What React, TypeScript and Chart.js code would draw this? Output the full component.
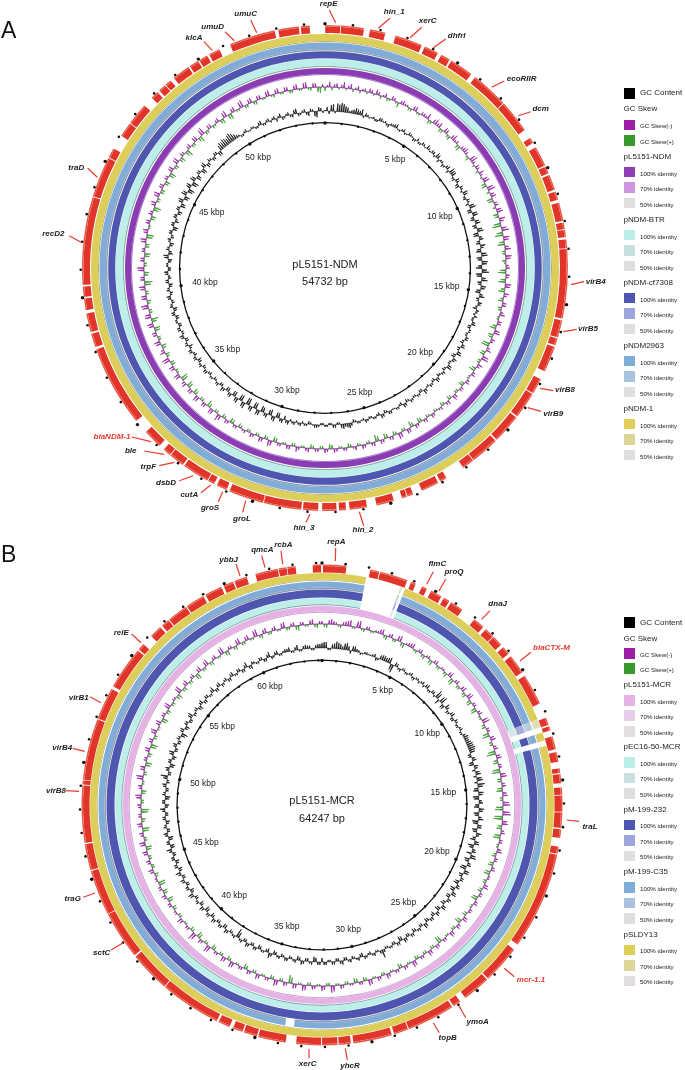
import React, { useEffect, useRef } from 'react';
import { Chart, registerables } from 'chart.js';
Chart.register(...registerables);

const FONT = '"Liberation Sans", Arial, sans-serif';

// ---------- Genome sizes ----------
const genomeKbA = 54.732;
const genomeKbB = 64.247;

// ---------- Genes (start kb, end kb) ----------
const genesA: number[][] = [
  [0.01,0.55],[0.58,1.41],[1.63,2.19],[2.57,3.57],[3.69,4.21],[4.35,4.70],[4.77,5.63],[5.81,7.18],[7.21,8.42],[8.76,8.97],
  [9.15,9.88],[9.93,10.19],[10.26,10.82],[10.89,11.20],[11.31,11.98],[12.04,12.28],[12.31,12.57],[12.65,12.97],[13.00,15.51],[15.58,16.21],
  [16.25,16.50],[16.57,17.51],[17.83,18.40],[18.44,19.41],[19.46,20.52],[20.58,21.63],[21.66,22.09],[22.80,23.05],[23.14,23.79],[24.13,24.34],
  [24.37,24.55],[24.86,25.50],[25.85,26.48],[26.61,26.86],[26.95,27.47],[27.61,28.16],[28.22,29.59],[29.62,30.89],[31.01,31.39],[31.50,31.74],
  [31.77,32.75],[32.81,33.37],[33.40,33.69],[33.90,34.59],[35.12,38.07],[38.16,38.66],[38.72,39.41],[39.53,39.95],[40.01,40.38],[40.44,43.63],
  [43.66,45.14],[45.17,45.53],[46.07,46.60],[46.63,47.43],[47.81,48.10],[48.19,48.47],[48.50,48.73],[48.88,49.53],[49.59,49.94],[49.99,50.32],
  [50.40,50.81],[51.23,52.91],[53.04,53.79],[53.86,54.18],
];
const genesB: number[][] = [
  [0.04,1.04],[2.07,2.46],[2.50,3.71],[3.89,4.10],[4.39,4.62],[4.82,5.32],[5.44,5.71],[5.80,6.37],[7.03,7.53],[7.67,8.10],
  [8.14,8.60],[8.74,9.10],[9.24,10.08],[10.26,11.60],[12.26,12.58],[12.65,12.83],[13.10,13.67],[13.79,14.21],[14.49,14.69],[14.74,15.13],
  [15.31,15.62],[15.65,16.35],[16.38,17.04],[17.10,17.47],[17.85,18.15],[18.20,22.40],[22.66,24.32],[24.38,25.59],[25.86,26.20],[26.27,28.34],
  [28.38,29.00],[29.11,30.78],[30.89,31.41],[31.46,32.12],[32.16,33.23],[33.68,34.87],[34.93,35.51],[35.57,36.00],[36.16,36.67],[36.76,39.40],
  [39.44,41.21],[41.28,43.35],[43.38,45.33],[45.38,46.51],[46.56,49.02],[49.06,49.24],[49.27,51.91],[51.95,53.34],[53.47,55.32],[55.38,55.68],
  [56.16,56.70],[56.80,57.16],[57.20,58.09],[58.14,58.96],[59.07,59.82],[59.93,60.37],[60.43,60.98],[61.37,62.35],[62.39,62.73],[62.76,63.12],[63.85,64.21],
];

// ---------- BLAST ring exceptions for plasmid B (start kb, end kb, kind) ----------
const ringRegionsB: [number, number, string][] = [
  [1.96,3.53,'gap'],[3.53,3.61,'pale'],[3.61,3.75,'gap'],[12.19,12.55,'pale'],[12.55,12.81,'gap'],[13.17,13.42,'gap'],
];
const lightBlueRegionsB: [number, number, string][] = [...ringRegionsB, [33.41,33.82,'gap']];

// ---------- Tick positions (kb) ----------
const majorKbA = [0,5,10,15,20,25,30,35,40,45,50];
const minorKbA = [1,2,3,4,6,7,8,9,11,12,13,14,16,17,18,19,21,22,23,24,26,27,28,29,31,32,33,34,36,37,38,39,41,42,43,44,46,47,48,49,51,52,53,54];
const majorKbB = [0,5,10,15,20,25,30,35,40,45,50,55,60];
const minorKbB = [1,2,3,4,6,7,8,9,11,12,13,14,16,17,18,19,21,22,23,24,26,27,28,29,31,32,33,34,36,37,38,39,41,42,43,44,46,47,48,49,51,52,53,54,56,57,58,59,61,62,63,64];
const tickLabelKbA = [5,10,15,20,25,30,35,40,45,50];
const tickLabelKbB = [5,10,15,20,25,30,35,40,45,50,55,60];
const tickLabelRadiusA = [129,126,123,127,129,128,127,121,126,129];
const tickLabelRadiusB = [129,127,122,124,127,127,127,126,122,121,127,129];

// ---------- GC content deviation, on-bin readings (1.5 degree bins) ----------
const gcContentA = [
  1,-3,7,8,9,6,2,4,5,6,3,-1, 2,-2,3,2,-3,2,4,-2,3,-1,2,-3,
  3,-2,2,4,-1,3,5,-3,2,-2,4,6, 5,-3,3,-4,2,5,-2,3,-3,6,-4,5,
  -4,5,-3,6,-5,4,-4,3,-5,6,-4,5, -6,7,-5,6,-3,4,-5,5,-2,3,-4,2,
  3,-2,4,-3,2,-2,3,-3,4,-2,5,-4, 3,-2,5,-3,2,-3,4,-2,3,-1,5,-3,
  2,-2,3,-3,4,-2,2,-1,3,-3,4,-2, 2,-2,3,-1,2,-3,5,3,4,-2,3,-2,
  2,-2,3,1,-3,2,3,-2,2,4,-4,3, -5,4,-5,3,-6,5,-6,4,-7,5,-6,4,
  -5,3,-4,4,-3,2,-3,2,-2,3,-3,2, -4,3,-2,3,-4,2,-3,4,-2,3,-3,2,
  -3,3,-4,2,-2,4,-3,2,-4,3,-2,4, -3,2,-4,5,-3,2,-4,3,-2,3,-5,3,
  -2,3,-4,3,-4,5,-5,4,-6,5,-6,4, -4,3,-5,5,-3,2,-3,3,-4,7,8,6,
  9,5,2,-2,3,-1,2,-2,4,-2,3,2, -3,4,-2,3,-3,5,-2,3,-4,2,-6,3,
];
// between-bin readings
const gcContentFineA = [
  4,6,-2,7,8,5,3,6,4,-2,2,1, -2,3,1,-2,2,3,-1,2,-2,3,1,-2,
  -2,3,-1,2,3,-2,4,2,-3,3,-3,5, -2,4,-3,3,-2,4,-3,2,5,-4,5,-3,
  4,-4,5,-5,3,-3,5,-4,5,-5,6,-4, 5,-6,4,-4,5,-4,3,-3,4,-2,3,-2,
  -2,3,-3,2,-2,3,-2,3,-3,4,-3,4, -2,4,-2,3,-2,3,-3,2,-2,3,-3,2,
  -2,2,-2,3,-3,2,-1,3,-2,3,-3,2, -2,2,-2,2,-2,3,4,5,-2,3,-2,2,
  -2,2,3,-2,2,-2,2,3,-2,3,4,-5, 5,-6,4,-5,5,-6,5,-7,6,-6,5,-5,
  4,-4,3,-3,3,-2,2,-3,3,-2,3,-3, 3,-3,3,-2,3,-3,3,-2,3,-3,2,-3,
  3,-3,3,-3,3,-2,3,-3,3,-3,3,-3, 2,-3,4,-4,3,-3,2,-3,3,-4,3,-4,
  3,-3,3,-5,4,-4,5,-5,4,-5,5,-5, 3,-4,4,-4,3,-3,3,-4,5,6,7,8,
  7,3,-2,2,-1,2,-2,3,-2,2,-2,3, 2,-3,2,-2,4,-3,2,-3,3,-5,4,-2,
];
const gcContentB = [
  5,6,-2,5,6,3,7,-3,5,2,-1,2, 1,3,-2,5,4,6,-8,3,-3,2,-2,3,
  -3,2,2,-2,4,-2,3,8,-5,7,-4,3, -2,4,-3,2,-2,3,-2,5,4,6,7,5,
  -3,4,-5,3,4,-3,6,7,-4,5,-6,3, -4,5,-5,3,-6,4,-5,5,-3,4,-6,3,
  -5,6,-4,4,-6,5,-3,3,-5,4,-4,5, -4,3,-4,5,-5,4,-3,3,-4,5,-3,2,
  -4,3,-3,4,-5,3,-3,2,-2,8,-2,3, -3,2,-4,3,-2,3,-3,4,-3,3,-2,3,
  -4,3,-5,2,-3,4,-4,2,-3,3,-3,2, -4,5,-3,2,-4,3,-3,4,-3,2,-9,2,
  -3,4,-4,3,-3,4,-4,3,-5,4,-4,2, -3,5,-4,3,-3,4,-3,5,-4,3,-4,3,
  -3,5,-4,3,-5,4,-3,2,-4,3,-3,5, -4,3,-5,2,-3,4,-2,7,-3,4,-5,3,
  -4,5,-3,4,-3,2,-6,4,-4,3,-3,5, -2,3,-4,4,-3,3,-2,5,-3,4,-2,3,
  -3,4,-2,3,-3,5,-4,2,-2,3,-3,5, -2,4,-2,3,4,-2,5,-2,4,3,-2,4,
];
const gcContentFineB = [
  6,-2,4,7,5,6,4,5,3,-2,2,1, 2,-3,4,5,5,-6,4,-2,2,-2,2,-2,
  2,-2,3,3,-2,3,-2,6,6,-4,5,-3, 3,-3,3,-2,2,-2,3,4,5,6,6,-3,
  3,-4,4,-3,5,5,-3,5,-5,4,-5,4, -5,4,-4,5,-5,4,-4,3,-5,5,-4,4,
  5,-5,3,-5,5,-4,3,-4,3,-5,4,-4, 4,-3,4,-4,3,-4,3,-3,4,-3,3,-3,
  3,-3,3,-4,3,-3,2,-2,3,3,-2,2, -2,3,-3,2,-3,2,-3,3,-3,3,-2,3,
  3,-4,3,-3,3,-3,3,-2,3,-2,3,-3, 3,-4,2,-3,3,-3,3,-3,3,-6,3,-2,
  3,-4,3,-3,3,-3,3,-4,3,-3,3,-3, 4,-3,3,-3,3,-3,3,-3,3,-3,3,-3,
  3,-4,3,-4,3,-3,3,-3,3,-3,3,-3, 3,-4,3,-3,3,-3,4,-3,3,-4,3,-3,
  4,-3,3,-3,3,-4,3,-3,3,-3,4,-3, 2,-3,3,-3,3,-2,3,-3,3,-3,2,-3,
  3,-2,3,-3,3,-3,3,-2,3,-3,3,-3, 3,-2,2,3,-2,3,-2,3,3,-2,3,4,
];

// ---------- GC skew (positive: purple, drawn outward; negative: green, inward) ----------
const gcSkewA = [
  -4,5,3,-2,6,3,-3,4,2,-2,3,5, -3,4,-2,3,-5,4,2,-3,5,-2,3,6,
  -3,6,5,-3,4,-4,6,3,-5,4,3,-4, 7,-2,3,5,-2,6,-5,7,4,-6,3,-3,
  6,-4,4,-9,7,-8,5,-7,6,-3,5,-2, 4,-8,3,-7,5,-6,3,-5,4,-3,5,-2,
  4,-6,6,-4,3,-8,5,-5,7,-3,3,-6, 4,-2,4,-5,3,-3,5,-4,3,-4,2,-3,
  4,-3,3,-5,4,-6,5,-3,6,-4,3,-5, 4,-7,3,-2,4,-3,2,-4,3,-2,4,-5,
  4,-3,3,-4,3,-2,5,-3,4,-2,3,-5, 6,-4,5,-3,4,-3,2,-4,3,-5,4,-4,
  7,-3,5,-6,4,-3,6,-5,4,-6,3,-7, 6,-3,5,-4,7,-4,3,-5,6,-3,4,-6,
  6,-7,5,-3,7,-4,5,-3,6,-8,4,-5, 7,-3,4,-6,3,-4,6,-7,5,-2,4,-5,
  3,-7,5,-3,6,-4,4,-5,3,-6,5,-4, 6,-5,3,-7,4,-3,5,-6,7,-3,4,-2,
  4,-5,6,-6,5,-2,7,-3,5,-4,4,-2, 6,-3,5,-2,4,-3,5,-2,6,-3,4,-6,
];
const gcSkewFineA = [
  2,-3,4,3,-2,5,2,-3,3,4,-2,3, 2,-3,4,-2,3,2,-3,4,-2,3,2,-4,
  4,3,-4,5,-3,4,2,-4,3,5,-2,6, 3,4,-3,2,5,-4,6,-3,5,-5,4,5,
  -5,6,-7,5,-6,6,-5,4,-3,6,-4,3, -6,4,-5,6,-4,5,-3,4,-4,3,-2,4,
  -4,5,-5,4,-7,3,-4,6,-3,5,-4,3, -2,3,-4,3,-3,4,-3,4,-3,3,-2,3,
  -2,4,-4,3,-4,4,-3,5,-3,4,-4,3, -5,4,-3,3,-2,4,-3,3,-2,3,-4,3,
  -3,3,-3,4,-2,3,-3,4,-2,3,-4,5, -3,4,-3,3,-3,3,-3,3,-4,3,-3,5,
  -3,5,-4,4,-3,5,-4,4,-5,5,-6,5, -2,4,-4,6,-3,5,-4,5,-3,4,-5,5,
  -5,6,-3,6,-3,5,-3,5,-6,4,-4,6, -3,4,-5,3,-4,5,-6,4,-2,4,-4,4,
  -5,4,-3,5,-4,4,-4,3,-5,4,-3,5, -4,4,-5,3,-3,5,-4,6,-3,4,-3,3,
  -4,5,-5,4,-2,6,-3,4,-3,4,-2,5, -2,4,-2,4,-3,4,-2,5,-2,4,-5,3,
];
const gcSkewB = [
  3,-4,5,2,-3,4,6,-2,7,-3,3,-2, 2,5,-4,4,-3,6,-5,3,5,-3,4,-4,
  3,-5,4,-3,2,-4,5,-6,4,-3,5,-4, 6,-5,3,-6,4,-2,7,-4,3,-7,5,-3,
  4,-9,5,-5,3,-8,6,-4,4,-6,5,-3, 7,-8,8,-9,6,-5,4,-7,3,-2,5,-4,
  3,-5,4,-6,2,-3,5,-4,3,-6,4,-2, 3,-4,5,-6,4,-3,5,-2,3,-7,4,-3,
  5,-3,3,-4,6,-2,4,-5,3,-2,5,-3, 4,-2,6,-4,3,-5,2,-3,4,-2,7,-3,
  5,-2,4,-3,6,-2,5,-8,4,-3,6,-4, 3,-2,5,-3,4,-5,3,-2,6,-4,5,-3,
  3,-5,7,-3,4,-6,8,-4,3,-2,5,-3, 2,-4,3,-6,4,-5,3,-7,2,-4,5,-3,
  4,-3,5,-6,6,-3,4,-7,5,-4,3,-8, 4,-3,6,-5,4,-2,7,-3,5,-6,3,-4,
  5,-7,4,-3,6,-2,5,-6,3,-4,6,-3, 2,-5,7,-4,5,-3,4,-6,5,-3,6,-4,
  4,-2,7,-5,3,-4,6,-3,5,-2,7,-4, 5,-3,4,-2,6,-3,4,-5,3,-2,5,-4,
];
const gcSkewFineB = [
  -3,4,3,-2,3,5,-2,6,-2,3,-2,2, 4,-3,3,-3,5,-4,2,4,-2,3,-3,2,
  -4,3,-3,2,-3,4,-5,3,-3,4,-3,5, -4,3,-5,3,-2,6,-3,3,-6,4,-3,3,
  -7,4,-4,3,-7,5,-4,3,-5,4,-3,6, -7,7,-8,5,-4,3,-6,3,-2,4,-3,3,
  -4,3,-5,2,-3,4,-3,3,-5,3,-2,3, -3,4,-5,3,-3,4,-2,3,-6,3,-3,4,
  -3,3,-3,5,-2,3,-4,3,-2,4,-3,3, -2,5,-3,3,-4,2,-3,3,-2,6,-3,4,
  -2,3,-3,5,-2,4,-6,3,-3,5,-3,3, -2,4,-3,3,-4,3,-2,5,-3,4,-3,3,
  -4,6,-3,3,-5,6,-3,3,-2,4,-3,2, -3,3,-5,3,-4,3,-6,2,-3,4,-3,3,
  -3,4,-5,5,-3,3,-6,4,-3,3,-7,3, -3,5,-4,3,-2,6,-3,4,-5,3,-3,4,
  -6,3,-3,5,-2,4,-5,3,-3,5,-3,2, -4,6,-3,4,-3,3,-5,4,-3,5,-3,3,
  -2,6,-4,3,-3,5,-3,4,-2,6,-3,4, -3,3,-2,5,-3,3,-4,3,-2,4,-3,3,
];

// ---------- Gene names and page layout of their labels ----------
const geneNamesA = ['umuC','umuD','klcA','traD','recD2','repE','hin_1','xerC','dhfrI','ecoRIIR','dcm','virB4','virB5','virB8','virB9','hin_3','hin_2','blaNDM-1','ble','trpF','dsbD','cutA','groS','groL'];
const geneNamesB = ['ybbJ','qmcA','relE','virB1','virB4','virB8','rcbA','repA','flmC','proQ','dnaJ','blaCTX-M','traL','mcr-1.1','ymoA','topB','yhcR','xerC','traG','sctC'];
const highlightGenes = ['blaNDM-1','blaCTX-M','mcr-1.1'];
// x1, y1, x2, y2 of callout, then text centre x, y
const calloutsA = [
  [250.7,20,256.7,32.7,245.7,13.7],[225,31.7,234.3,40.7,212.7,27],[204,41.7,212.3,50.7,194,38],[87.7,168.3,97.3,177.3,76.3,167.3],
  [69.3,235.7,81.7,242.7,53.3,233.3],[329.3,10,335.7,22.7,328.7,3.6],[390,18.3,378.3,28.3,394.3,11.3],[421.7,27.3,410,37.7,427.7,20.3],
  [445.7,39,433.3,47.7,456.7,35.3],[504.3,81,491.7,87.3,521.7,79],[530.7,111.7,518.3,115.7,540.7,109],[584,281.7,571,284.7,595.7,281.7],
  [576.7,329.3,563.3,331.7,588,328.3],[553.3,390.7,540,388.3,565,390],[541,411.3,527.7,407.7,553.3,413.3],[310,514.3,306,522.3,304,528],
  [359.3,511.7,363.7,525.7,363,529.3],[131.7,437,151,441.7,112,436.7],[144.3,451,164.3,454.3,130.7,451],[159.3,465.7,174.3,462.3,148.3,467],
  [179.3,480.7,193.3,475.7,166,483],[201,492.7,210.7,485,189.3,495],[218.3,501.7,222.7,491.7,210,508],[242.7,512.3,245.7,500.7,242,518.7],
];
const calloutsB = [
  [236,564,240,575.7,228.7,559.7],[261.7,555.7,265,567.7,262.3,549.3],[131.7,634,141,642.7,121.3,632.7],[90,696.7,101,702.7,78.7,697.3],
  [72.7,748.3,84.7,751.3,62.3,747.7],[66,790.7,79,791.3,56,790.7],[281,550.7,282.7,564.3,283.3,545],[335.7,547.7,335.3,561,336.3,541.7],
  [433.3,571.7,426.7,584.3,437.3,564],[445.7,579,439,591,454,572],[490,610.7,481.7,619.3,497.7,603.7],[531,652.3,520,661,551.5,647.7],
  [579,821.3,566.7,820,590,826.7],[514.3,976.7,504.3,968.3,531,979.3],[465.7,1017.7,459,1005.7,477.7,1021.3],[439.3,1032.7,433.3,1022.7,447.7,1037.7],
  [347.3,1060,345.3,1048.3,350,1065.3],[309,1058.3,309,1049,307.7,1064],[83.3,897.3,95,893,72.7,899],[111,950,123.3,942.7,101.7,952.3],
];

// ---------- Legend ----------
const legendRowsIdentity = ['100% identity','70% identity','50% identity'];
const legendGroupsA = ['pL5151-NDM','pNDM-BTR','pNDM-cf7308','pNDM2963','pNDM-1'];
const legendGroupsB = ['pL5151-MCR','pEC16-50-MCR','pM-199-232','pM-199-C35','pSLDY13'];
const GREY50 = '#E0DEDF';
const legendColoursA = [['#8E3FB5','#CC97E0',GREY50],['#BCEEE9','#C8E0E0',GREY50],['#4F56B2','#9FA6DF',GREY50],['#7FACD8','#A9C2DE',GREY50],['#DFCF58','#DDD69A',GREY50]];
const legendColoursB = [['#E6B2E6','#E6CFE9',GREY50],['#BCEEE9','#C8E0E0',GREY50],['#4F56B2','#9FA6DF',GREY50],['#7FACD8','#A9C2DE',GREY50],['#DFCF58','#DDD69A',GREY50]];

const SIZE = 640;
const SCALE_MAX = 320;
const GC_BASE = 157;
const SKEW_BASE = 181;
const SPIKE_EXPAND = 4;
const TICK_BIN_KB = 0.05;

type Ring = { kind: 'spacer' | 'genes' | 'solid'; w: number; color?: string; pale?: string; regions?: [number, number, string][] };

function segmentsFromGenes(genes: number[][], total: number, color: string) {
  const data: number[] = []; const colors: string[] = [];
  let pos = 0;
  genes.forEach(([s, e]) => {
    data.push(s - pos, e - s); colors.push('rgba(0,0,0,0)', color); pos = e;
  });
  data.push(total - pos); colors.push('rgba(0,0,0,0)');
  return { data, colors };
}
function segmentsFromRegions(regions: [number, number, string][], total: number, color: string, pale: string) {
  const data: number[] = []; const colors: string[] = [];
  let pos = 0;
  regions.forEach(([s, e, k]) => {
    if (s > pos) { data.push(s - pos); colors.push(color); }
    data.push(e - s); colors.push(k === 'gap' ? 'rgba(0,0,0,0)' : pale);
    pos = e;
  });
  data.push(total - pos); colors.push(color);
  return { data, colors };
}

const Y50 = '#E3DFB4', L50 = '#B8CCE2', D50 = '#A8ACDD', C50 = '#D5E6E6';

function ringsA(): Ring[] {
  return [
    { kind: 'genes', w: 1.5, color: '#E8594A' },
    { kind: 'genes', w: 6.5, color: '#E1352A' },
    { kind: 'spacer', w: 1 },
    { kind: 'solid', w: 7, color: '#DCCE58' },
    { kind: 'solid', w: 1, color: '#B5B06C' },
    { kind: 'spacer', w: 0.5 },
    { kind: 'solid', w: 6.5, color: '#82ACD8' },
    { kind: 'solid', w: 1.4, color: '#8E99AC' },
    { kind: 'spacer', w: 0.8 },
    { kind: 'solid', w: 7, color: '#4E56B0' },
    { kind: 'spacer', w: 0.4 },
    { kind: 'solid', w: 7.1, color: '#BDEEE9' },
    { kind: 'solid', w: 1.3, color: '#88B0AC' },
    { kind: 'spacer', w: 1 },
    { kind: 'solid', w: 6, color: '#8A3DB2' },
    { kind: 'solid', w: 1, color: '#AD78CF' },
    { kind: 'spacer', w: 46.9 },
    { kind: 'solid', w: 1.3, color: '#111111' },
  ];
}
function ringsB(): Ring[] {
  const r = ringRegionsB;
  return [
    { kind: 'genes', w: 1.5, color: '#E8594A' },
    { kind: 'genes', w: 6.5, color: '#E1352A' },
    { kind: 'spacer', w: 0.5 },
    { kind: 'solid', w: 6.7, color: '#DCCE58', pale: Y50, regions: r },
    { kind: 'solid', w: 0.8, color: '#B5B06C', pale: Y50, regions: r },
    { kind: 'spacer', w: 1 },
    { kind: 'solid', w: 6, color: '#82ACD8', pale: L50, regions: lightBlueRegionsB },
    { kind: 'solid', w: 1.4, color: '#8E99AC', pale: L50, regions: lightBlueRegionsB },
    { kind: 'spacer', w: 0.6 },
    { kind: 'solid', w: 8, color: '#4E56B0', pale: D50, regions: r },
    { kind: 'spacer', w: 0.6 },
    { kind: 'solid', w: 6, color: '#BDEEE9', pale: C50, regions: r },
    { kind: 'solid', w: 1.2, color: '#88B0AC', pale: C50, regions: r },
    { kind: 'spacer', w: 0.7 },
    { kind: 'solid', w: 5.7, color: '#E6B2E6' },
    { kind: 'solid', w: 1, color: '#C9A6CC' },
    { kind: 'spacer', w: 46.7 },
    { kind: 'solid', w: 1.3, color: '#111111' },
  ];
}

type PanelProps = {
  left: number; top: number; outerR: number; totalKb: number; genes: number[][]; rings: Ring[];
  gc: number[]; gcFine: number[]; skew: number[]; skewFine: number[]; major: number[]; minor: number[]; outerTickR: number; innerTickR: number;
  tickLabels: number[]; tickRadii: number[]; title: string; sizeText: string;
  names: string[]; callouts: number[][]; titleY: number; sizeY: number;
};

function expand(values: number[], base: number) {
  const out: number[] = [];
  values.forEach(v => { out.push(base + v); for (let i = 1; i < SPIKE_EXPAND; i++) out.push(base); });
  return out;
}
function interleave(a: number[], b: number[]) {
  const out: number[] = [];
  a.forEach((v, i) => { out.push(v, b[i]); });
  return out;
}

function Panel(p: PanelProps) {
  const ringRef = useRef<HTMLCanvasElement>(null);
  const gcRef = useRef<HTMLCanvasElement>(null);
  const markRef = useRef<HTMLCanvasElement>(null);

  useEffect(() => {
    const common: any = { responsive: false, maintainAspectRatio: false, animation: false, events: [], plugins: { legend: { display: false }, tooltip: { enabled: false } } };
    const radial = { r: { display: false, min: 0, max: SCALE_MAX, ticks: { display: false }, pointLabels: { display: false }, grid: { display: false }, angleLines: { display: false } } };

    // rings
    const sum = p.rings.reduce((a, r) => a + r.w, 0);
    const ringDatasets = p.rings.map(r => {
      let seg: { data: number[]; colors: string[] };
      if (r.kind === 'spacer') seg = { data: [p.totalKb], colors: ['rgba(0,0,0,0)'] };
      else if (r.kind === 'genes') seg = segmentsFromGenes(p.genes, p.totalKb, r.color!);
      else if (r.regions) seg = segmentsFromRegions(r.regions, p.totalKb, r.color!, r.pale!);
      else seg = { data: [p.totalKb], colors: [r.color!] };
      return { data: seg.data, backgroundColor: seg.colors, borderWidth: 0, weight: r.w };
    });
    const ringChart = new Chart(ringRef.current!, {
      type: 'doughnut',
      data: { datasets: ringDatasets as any },
      options: { ...common, cutout: p.outerR - sum, layout: { padding: SCALE_MAX - p.outerR } },
    });

    // GC content and skew
    const gcAll = interleave(p.gc, p.gcFine);
    const skewAll = interleave(p.skew, p.skewFine);
    const n = gcAll.length * SPIKE_EXPAND;
    const binLabels = Array.from({ length: n }, (_, i) => String(i));
    const purple = skewAll.map(v => (v > 0 ? v : 0));
    const green = skewAll.map(v => (v < 0 ? v : 0));
    const spikeSet = (values: number[], base: number, color: string, w: number) => ({
      data: expand(values, base), borderColor: color, backgroundColor: color, borderWidth: w,
      borderJoinStyle: 'round', pointRadius: 0, fill: { value: base }, tension: 0,
    });
    const gcChart = new Chart(gcRef.current!, {
      type: 'radar',
      data: { labels: binLabels, datasets: [
        spikeSet(purple, SKEW_BASE, '#9A24A8', 0.7),
        spikeSet(green, SKEW_BASE, '#3A9A2E', 0.7),
        spikeSet(gcAll, GC_BASE, '#111111', 0.7),
      ] as any },
      options: { ...common, scales: radial },
    });

    // ticks, tick labels, gene labels
    const nTicks = Math.round(p.totalKb / TICK_BIN_KB);
    const tickLabels = Array.from({ length: nTicks }, (_, i) => String(i));
    const toIndex = (kb: number) => Math.round(kb / TICK_BIN_KB);
    const tickData = (kbs: number[], r: number) => {
      const arr: (number | null)[] = new Array(nTicks).fill(null);
      kbs.forEach(k => { arr[toIndex(k)] = r; });
      return arr;
    };
    const dots = (kbs: number[], r: number, size: number) => ({
      data: tickData(kbs, r), showLine: false, pointRadius: size, pointBackgroundColor: '#111111', pointBorderWidth: 0, borderWidth: 0, spanGaps: false,
    });
    const textPlugin = {
      id: 'panelText',
      afterDatasetsDraw(chart: any) {
        const ctx = chart.ctx; const scale = chart.scales.r;
        ctx.save();
        ctx.textAlign = 'center'; ctx.textBaseline = 'middle';
        ctx.fillStyle = '#222222';
        ctx.font = `8.5px ${FONT}`;
        p.tickLabels.forEach((kb, i) => {
          const pt = scale.getPointPosition(toIndex(kb), p.tickRadii[i]);
          ctx.fillText(`${kb} kbp`, pt.x, pt.y);
        });
        const c = scale.getPointPosition(0, 0);
        ctx.font = `11px ${FONT}`;
        ctx.fillText(p.title, c.x, p.titleY - p.top);
        ctx.fillText(p.sizeText, c.x, p.sizeY - p.top);
        ctx.lineWidth = 1.2; ctx.strokeStyle = '#E8392E'; ctx.lineCap = 'butt';
        p.names.forEach((name, i) => {
          const [x1, y1, x2, y2, tx, ty] = p.callouts[i];
          ctx.beginPath(); ctx.moveTo(x1 - p.left, y1 - p.top); ctx.lineTo(x2 - p.left, y2 - p.top); ctx.stroke();
          ctx.font = `italic bold 8px ${FONT}`;
          ctx.fillStyle = highlightGenes.includes(name) ? '#E8392E' : '#222222';
          ctx.fillText(name, tx - p.left, ty - p.top);
        });
        ctx.restore();
      },
    };
    const markChart = new Chart(markRef.current!, {
      type: 'radar',
      data: { labels: tickLabels, datasets: [
        dots(p.minor, p.outerTickR, 1.3), dots(p.major, p.outerTickR, 1.7),
        dots(p.minor, p.innerTickR, 1.2), dots(p.major, p.innerTickR, 1.7),
      ] as any },
      options: { ...common, scales: radial },
      plugins: [textPlugin],
    });
    return () => { ringChart.destroy(); gcChart.destroy(); markChart.destroy(); };
  }, []);

  const st: React.CSSProperties = { position: 'absolute', left: p.left, top: p.top, width: SIZE, height: SIZE };
  return (
    <>
      <canvas ref={ringRef} width={SIZE} height={SIZE} style={st} />
      <canvas ref={gcRef} width={SIZE} height={SIZE} style={st} />
      <canvas ref={markRef} width={SIZE} height={SIZE} style={st} />
    </>
  );
}

function Txt(props: { x: number; y: number; size: number; children: React.ReactNode }) {
  return (
    <div style={{ position: 'absolute', left: props.x, top: props.y, transform: 'translateY(-50%)', fontFamily: FONT, fontSize: props.size, color: '#222', lineHeight: 1, whiteSpace: 'nowrap' }}>
      {props.children}
    </div>
  );
}
function Sq(props: { y: number; color: string }) {
  return <div style={{ position: 'absolute', left: 624, top: props.y - 5.3, width: 10.6, height: 10.6, background: props.color }} />;
}

function Legend(props: { content: number; skewHead: number; skew: number[]; groupStart: number; period: number; groups: string[]; colours: string[][]; offsets: number[] }) {
  return (
    <>
      <Sq y={props.content} color="#000" />
      <Txt x={640} y={props.content} size={8}>GC Content</Txt>
      <Txt x={623.5} y={props.skewHead} size={8}>GC Skew</Txt>
      <Sq y={props.skew[0]} color="#9A1FA5" />
      <Txt x={640} y={props.skew[0] + 1.3} size={6.2}>GC Skew(-)</Txt>
      <Sq y={props.skew[1]} color="#389A2E" />
      <Txt x={640} y={props.skew[1] + 1.3} size={6.2}>GC Skew(+)</Txt>
      {props.groups.map((g, i) => {
        const y = props.groupStart + i * props.period;
        return (
          <React.Fragment key={g}>
            <Txt x={623.5} y={y} size={8}>{g}</Txt>
            {legendRowsIdentity.map((t, j) => (
              <React.Fragment key={t}>
                <Sq y={y + props.offsets[j]} color={props.colours[i][j]} />
                <Txt x={640} y={y + props.offsets[j] + 1.3} size={6.2}>{t}</Txt>
              </React.Fragment>
            ))}
          </React.Fragment>
        );
      })}
    </>
  );
}

export default function App() {
  return (
    <div style={{ position: 'absolute', left: 0, top: 0, width: 685, height: 1070, overflow: 'hidden', background: '#fff', filter: 'blur(0.3px)' }}>
      <Panel left={5} top={-52} outerR={243} totalKb={genomeKbA} genes={genesA} rings={ringsA()} gc={gcContentA} gcFine={gcContentFineA} skew={gcSkewA} skewFine={gcSkewFineA}
        major={majorKbA} minor={minorKbA} outerTickR={244.3} innerTickR={145} tickLabels={tickLabelKbA} tickRadii={tickLabelRadiusA}
        title="pL5151-NDM" sizeText="54732 bp" titleY={265} sizeY={282} names={geneNamesA} callouts={calloutsA} />
      <Panel left={2} top={485} outerR={240.5} totalKb={genomeKbB} genes={genesB} rings={ringsB()} gc={gcContentB} gcFine={gcContentFineB} skew={gcSkewB} skewFine={gcSkewFineB}
        major={majorKbB} minor={minorKbB} outerTickR={242} innerTickR={144.5} tickLabels={tickLabelKbB} tickRadii={tickLabelRadiusB}
        title="pL5151-MCR" sizeText="64247 bp" titleY={800.7} sizeY={818.7} names={geneNamesB} callouts={calloutsB} />
      <div style={{ position: 'absolute', left: 1, top: 19, fontFamily: FONT, fontSize: 23, lineHeight: 1, color: '#111' }}>A</div>
      <div style={{ position: 'absolute', left: 1, top: 543, fontFamily: FONT, fontSize: 23, lineHeight: 1, color: '#111' }}>B</div>
      <Legend content={93.3} skewHead={109.3} skew={[125, 140.3]} groupStart={156.7} period={63} groups={legendGroupsA} colours={legendColoursA} offsets={[15.5, 31, 46.5]} />
      <Legend content={622.5} skewHead={638.7} skew={[653.3, 668.7]} groupStart={685} period={62.4} groups={legendGroupsB} colours={legendColoursB} offsets={[15.3, 30.7, 46.3]} />
    </div>
  );
}
